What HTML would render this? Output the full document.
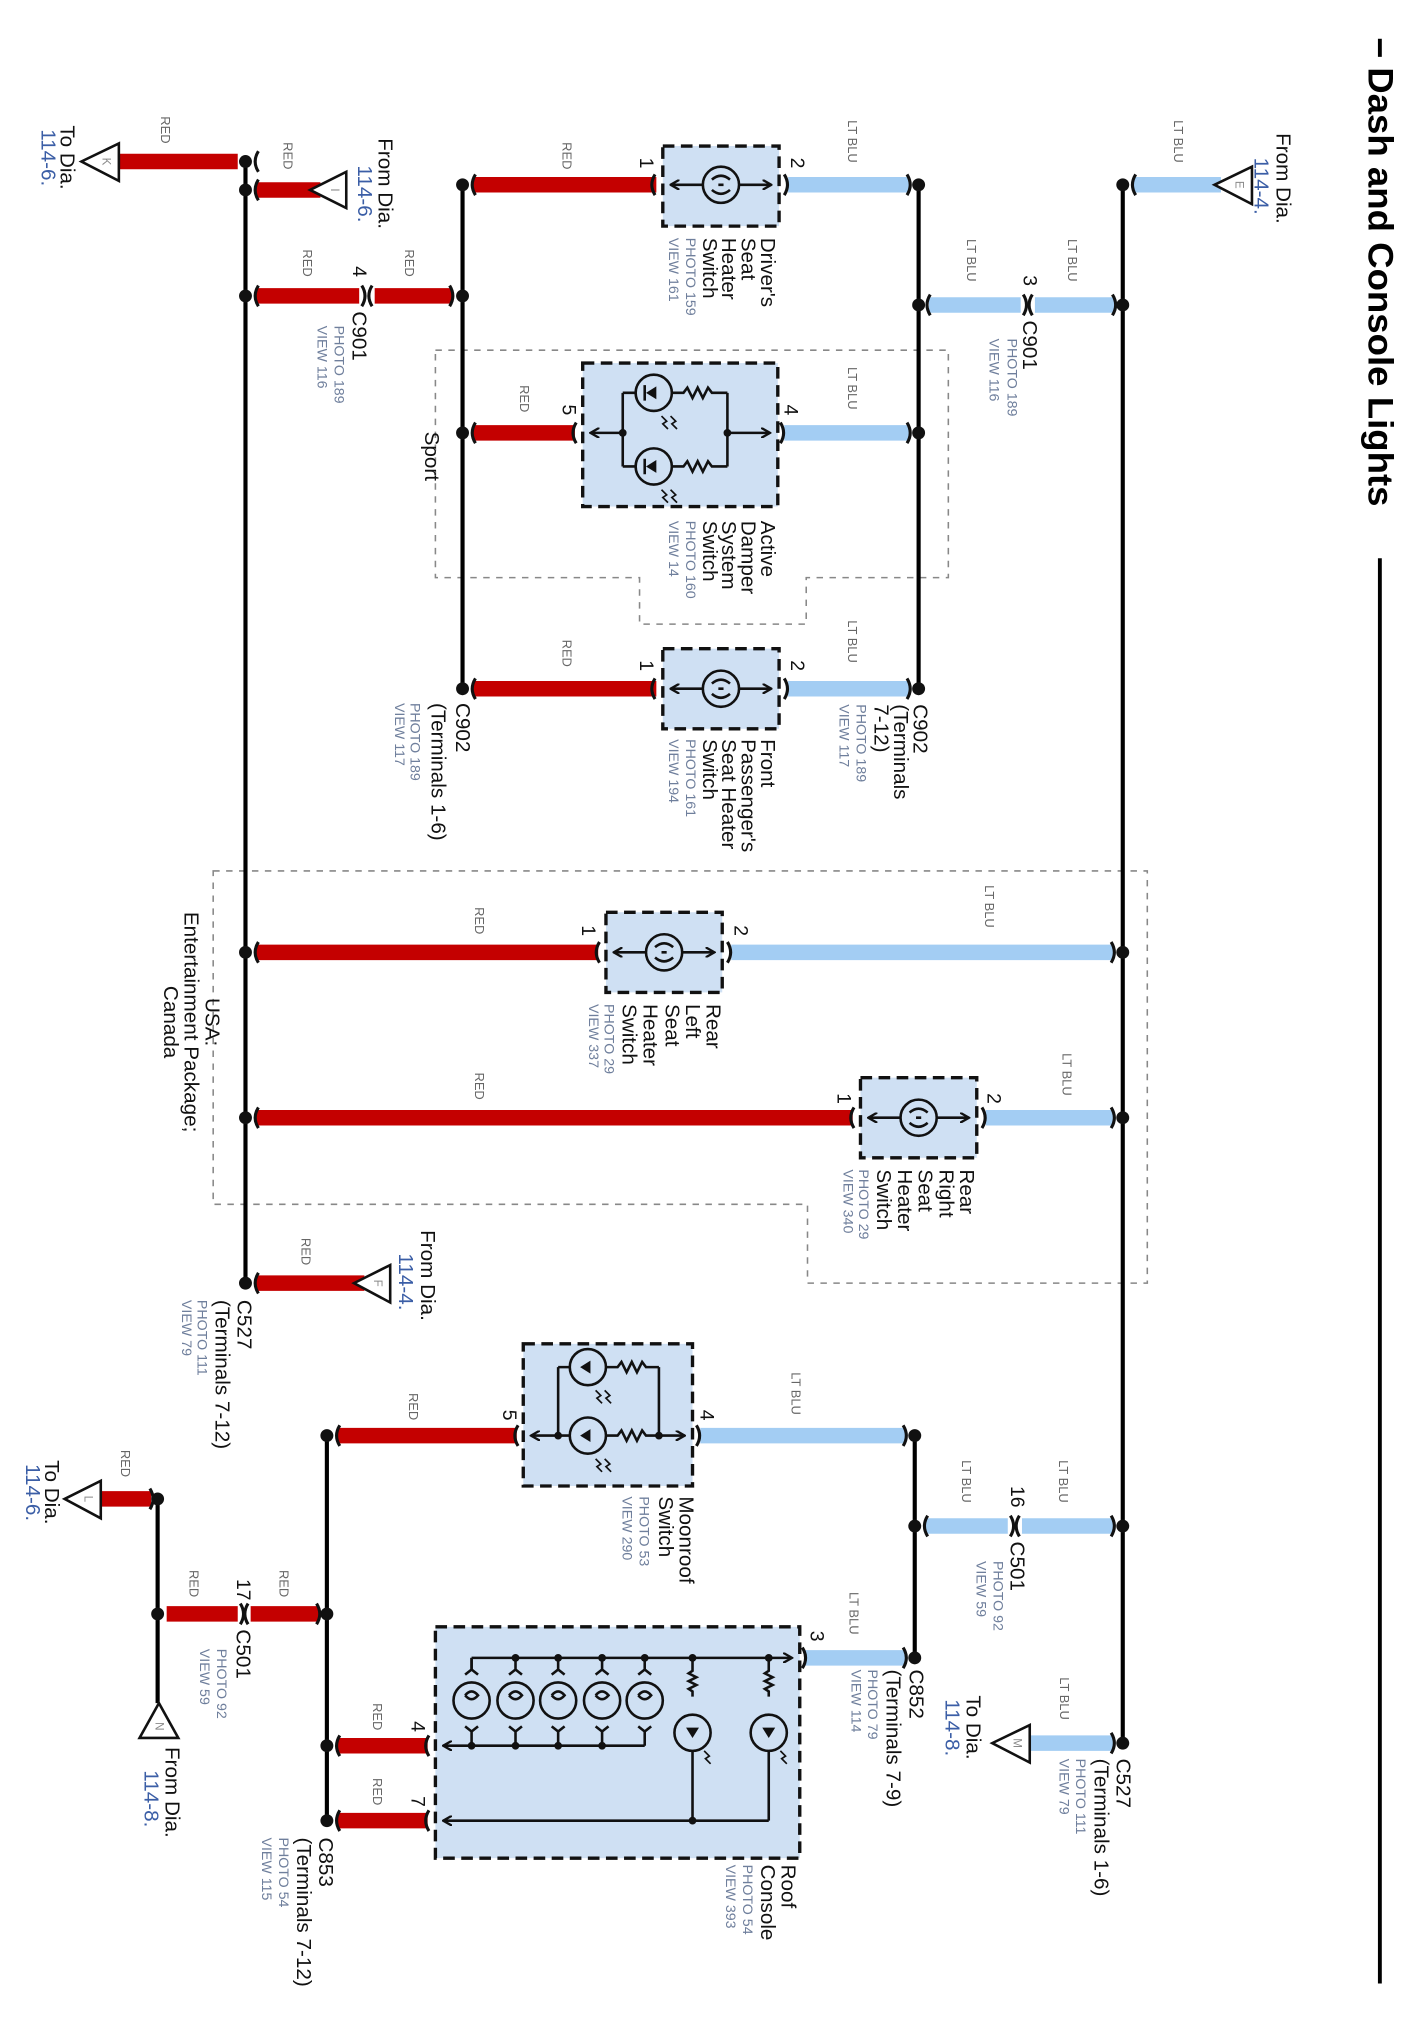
<!DOCTYPE html>
<html><head><meta charset="utf-8"><style>
html,body{margin:0;padding:0;background:#fff;}
svg{display:block;}
text{font-family:"Liberation Sans",sans-serif;dominant-baseline:central;}
.L{font-size:16px;fill:#111;}
.B{font-size:16px;fill:#3b5ea6;}
.S{font-size:11px;fill:#6f7f9c;}
.W{font-size:10px;fill:#666;}
.N{font-size:15px;fill:#111;}
.T{font-size:9px;fill:#888;}
.bus{stroke:#000;stroke-width:3.2;fill:none;}
.r{stroke:#c40000;stroke-width:12;}
.b{stroke:#a3cdf3;stroke-width:12;}
.box{fill:#cfe0f3;stroke:#111;stroke-width:2.6;stroke-dasharray:9,5;}
.reg{fill:none;stroke:#888;stroke-width:1.2;stroke-dasharray:5,5;}
.k{stroke:#111;stroke-width:2;fill:none;}
.kf{fill:#111;}
.br{stroke:#111;stroke-width:2.4;fill:none;}
</style></head><body>
<svg width="1407" height="2030" viewBox="0 0 1089 1571" preserveAspectRatio="none" xmlns="http://www.w3.org/2000/svg">
<defs>
<marker id="ah" markerWidth="8" markerHeight="8" refX="7" refY="4" orient="auto" markerUnits="userSpaceOnUse"><path d="M0,0 L7,4 L0,8" fill="none" stroke="#111" stroke-width="1.8"/></marker>
</defs>

<line x1="1068" y1="30" x2="1068" y2="44" stroke="#000" stroke-width="3"/>
<line x1="1068" y1="432" x2="1068" y2="1535" stroke="#000" stroke-width="3"/>
<text transform="translate(1068,52) rotate(90)" style="font-size:27px;font-weight:bold;fill:#000" textLength="340" lengthAdjust="spacingAndGlyphs">Dash and Console Lights</text>

<polygon class="reg" points="337,271 734,271 734,447 624,447 624,483 495,483 495,447 337,447"/>
<polygon class="reg" points="165,674 888,674 888,993 625,993 625,932 165,932"/>

<line class="bus" x1="190" y1="125" x2="190" y2="993"/>
<line class="bus" x1="358" y1="143" x2="358" y2="533"/>
<line class="bus" x1="711" y1="143" x2="711" y2="533"/>
<line class="bus" x1="869" y1="143" x2="869" y2="1349"/>
<line class="bus" x1="708" y1="1111" x2="708" y2="1283"/>
<line class="bus" x1="253" y1="1111" x2="253" y2="1409"/>
<line class="bus" x1="122" y1="1160" x2="122" y2="1318"/>

<line class="r" x1="90" y1="125" x2="184" y2="125"/>
<line class="r" x1="198" y1="147" x2="248" y2="147"/>
<line class="r" x1="198" y1="229" x2="278" y2="229"/>
<line class="r" x1="290" y1="229" x2="350" y2="229"/>
<line class="r" x1="366" y1="143" x2="508" y2="143"/>
<line class="r" x1="366" y1="335" x2="445" y2="335"/>
<line class="r" x1="366" y1="533" x2="508" y2="533"/>
<line class="r" x1="198" y1="737" x2="463" y2="737"/>
<line class="r" x1="198" y1="865" x2="660" y2="865"/>
<line class="r" x1="198" y1="993" x2="282" y2="993"/>
<line class="r" x1="261" y1="1111" x2="400" y2="1111"/>
<line class="r" x1="76" y1="1160" x2="117" y2="1160"/>
<line class="r" x1="129" y1="1249" x2="184" y2="1249"/>
<line class="r" x1="194" y1="1249" x2="247" y2="1249"/>
<line class="r" x1="261" y1="1351" x2="331" y2="1351"/>
<line class="r" x1="261" y1="1409" x2="331" y2="1409"/>

<line class="b" x1="610" y1="143" x2="704" y2="143"/>
<line class="b" x1="877" y1="143" x2="945" y2="143"/>
<line class="b" x1="719" y1="236" x2="790" y2="236"/>
<line class="b" x1="801" y1="236" x2="863" y2="236"/>
<line class="b" x1="607" y1="335" x2="704" y2="335"/>
<line class="b" x1="610" y1="533" x2="704" y2="533"/>
<line class="b" x1="566" y1="737" x2="862" y2="737"/>
<line class="b" x1="763" y1="865" x2="862" y2="865"/>
<line class="b" x1="542" y1="1111" x2="701" y2="1111"/>
<line class="b" x1="716" y1="1181" x2="780" y2="1181"/>
<line class="b" x1="791" y1="1181" x2="862" y2="1181"/>
<line class="b" x1="623" y1="1283" x2="701" y2="1283"/>
<line class="b" x1="794" y1="1349" x2="862" y2="1349"/>

<g class="kf">
<circle cx="190" cy="125" r="5"/><circle cx="190" cy="147" r="5"/><circle cx="190" cy="229" r="5"/><circle cx="190" cy="737" r="5"/><circle cx="190" cy="865" r="5"/><circle cx="190" cy="993" r="5"/>
<circle cx="358" cy="143" r="5"/><circle cx="358" cy="229" r="5"/><circle cx="358" cy="335" r="5"/><circle cx="358" cy="533" r="5"/>
<circle cx="711" cy="143" r="5"/><circle cx="711" cy="236" r="5"/><circle cx="711" cy="335" r="5"/><circle cx="711" cy="533" r="5"/>
<circle cx="869" cy="143" r="5"/><circle cx="869" cy="236" r="5"/><circle cx="869" cy="737" r="5"/><circle cx="869" cy="865" r="5"/><circle cx="869" cy="1181" r="5"/><circle cx="869" cy="1349" r="5"/>
<circle cx="708" cy="1111" r="5"/><circle cx="708" cy="1181" r="5"/><circle cx="708" cy="1283" r="5"/>
<circle cx="253" cy="1111" r="5"/><circle cx="253" cy="1249" r="5"/><circle cx="253" cy="1351" r="5"/><circle cx="253" cy="1409" r="5"/>
<circle cx="122" cy="1160" r="5"/><circle cx="122" cy="1249" r="5"/>
</g>

<g class="br">
<path d="M200,117 q-5,8 0,16"/><path d="M200,139 q-5,8 0,16"/><path d="M200,221 q-5,8 0,16"/>
<path d="M280,221 q5,8 0,16"/><path d="M288,221 q-5,8 0,16"/><path d="M348,221 q5,8 0,16"/>
<path d="M368,135 q-5,8 0,16"/><path d="M368,327 q-5,8 0,16"/><path d="M368,525 q-5,8 0,16"/>
<path d="M507,135 q-5,8 0,16"/><path d="M507,525 q-5,8 0,16"/><path d="M446,327 q-5,8 0,16"/>
<path d="M607,135 q5,8 0,16"/><path d="M607,525 q5,8 0,16"/><path d="M604,327 q5,8 0,16"/>
<path d="M702,135 q5,8 0,16"/><path d="M702,525 q5,8 0,16"/><path d="M702,327 q5,8 0,16"/>
<path d="M720,228 q-5,8 0,16"/><path d="M792,228 q5,8 0,16"/><path d="M799,228 q-5,8 0,16"/><path d="M861,228 q5,8 0,16"/>
<path d="M879,135 q-5,8 0,16"/>
<path d="M200,729 q-5,8 0,16"/><path d="M464,729 q-5,8 0,16"/><path d="M563,729 q5,8 0,16"/><path d="M860,729 q5,8 0,16"/>
<path d="M200,857 q-5,8 0,16"/><path d="M661,857 q-5,8 0,16"/><path d="M760,857 q5,8 0,16"/><path d="M860,857 q5,8 0,16"/>
<path d="M200,985 q-5,8 0,16"/>
<path d="M263,1103 q-5,8 0,16"/><path d="M401,1103 q-5,8 0,16"/><path d="M539,1103 q5,8 0,16"/><path d="M699,1103 q5,8 0,16"/>
<path d="M718,1173 q-5,8 0,16"/><path d="M782,1173 q5,8 0,16"/><path d="M789,1173 q-5,8 0,16"/><path d="M860,1173 q5,8 0,16"/>
<path d="M621,1275 q5,8 0,16"/><path d="M699,1275 q5,8 0,16"/>
<path d="M860,1341 q5,8 0,16"/>
<path d="M186,1241 q5,8 0,16"/><path d="M192,1241 q-5,8 0,16"/><path d="M245,1241 q5,8 0,16"/>
<path d="M263,1343 q-5,8 0,16"/><path d="M263,1401 q-5,8 0,16"/><path d="M332,1343 q-5,8 0,16"/><path d="M332,1401 q-5,8 0,16"/>
<path d="M116,1152 q5,8 0,16"/>
</g>

<g fill="#fff" stroke="#111" stroke-width="2">
<polygon points="63,125 92,111 92,140"/>
<polygon points="240,147 268,133 268,161"/>
<polygon points="940,143 969,129 969,158"/>
<polygon points="274,993 302,979 302,1008"/>
<polygon points="768,1349 797,1335 797,1364"/>
<polygon points="50,1160 78,1146 78,1175"/>
<polygon points="123,1318 108,1345 138,1345"/>
</g>
<text class="T" transform="translate(82,125) rotate(90)" text-anchor="middle">K</text>
<text class="T" transform="translate(259,147) rotate(90)" text-anchor="middle">I</text>
<text class="T" transform="translate(959,143) rotate(90)" text-anchor="middle">E</text>
<text class="T" transform="translate(292,993) rotate(90)" text-anchor="middle">F</text>
<text class="T" transform="translate(787,1349) rotate(90)" text-anchor="middle">M</text>
<text class="T" transform="translate(68,1160) rotate(90)" text-anchor="middle">L</text>
<text class="T" transform="translate(123,1336) rotate(90)" text-anchor="middle">N</text>

<g>
<rect class="box" x="513" y="113" width="90" height="62"/>
<circle cx="558" cy="143" r="14" class="k"/>
<line class="k" x1="544" y1="143" x2="519" y2="143" marker-end="url(#ah)"/>
<line class="k" x1="572" y1="143" x2="597" y2="143" marker-end="url(#ah)"/>
<path class="k" d="M551,139 q7,-6 14,0 M551,147 q7,6 14,0 M556,143 h4"/>
</g>
<g>
<rect class="box" x="513" y="502" width="90" height="62"/>
<circle cx="558" cy="533" r="14" class="k"/>
<line class="k" x1="544" y1="533" x2="519" y2="533" marker-end="url(#ah)"/>
<line class="k" x1="572" y1="533" x2="597" y2="533" marker-end="url(#ah)"/>
<path class="k" d="M551,529 q7,-6 14,0 M551,537 q7,6 14,0 M556,533 h4"/>
</g>
<g>
<rect class="box" x="469" y="706" width="90" height="62"/>
<circle cx="514" cy="737" r="14" class="k"/>
<line class="k" x1="500" y1="737" x2="475" y2="737" marker-end="url(#ah)"/>
<line class="k" x1="528" y1="737" x2="553" y2="737" marker-end="url(#ah)"/>
<path class="k" d="M507,733 q7,-6 14,0 M507,741 q7,6 14,0 M512,737 h4"/>
</g>
<g>
<rect class="box" x="666" y="834" width="90" height="62"/>
<circle cx="711" cy="865" r="14" class="k"/>
<line class="k" x1="697" y1="865" x2="672" y2="865" marker-end="url(#ah)"/>
<line class="k" x1="725" y1="865" x2="750" y2="865" marker-end="url(#ah)"/>
<path class="k" d="M704,861 q7,-6 14,0 M704,869 q7,6 14,0 M709,865 h4"/>
</g>

<rect class="box" x="451" y="281" width="151" height="111"/>
<path class="k" d="M482,304 V361 M563,304 V361 M482,304 H492 M520,304 H529 l3,-4 l4,8 l4,-8 l4,8 l4,-8 l3,4 H563 M482,361 H492 M520,361 H529 l3,-4 l4,8 l4,-8 l4,8 l4,-8 l3,4 H563"/>
<circle class="k" cx="506" cy="304" r="14"/><circle class="k" cx="506" cy="361" r="14"/>
<path class="kf" d="M500,304 l8,-5 v10 z M500,361 l8,-5 v10 z"/>
<path class="k" d="M499,298 v12 M499,355 v12"/>
<line class="k" x1="482" y1="335" x2="457" y2="335" marker-end="url(#ah)"/>
<line class="k" x1="563" y1="335" x2="596" y2="335" marker-end="url(#ah)"/>
<circle class="kf" cx="482" cy="335" r="3"/><circle class="kf" cx="563" cy="335" r="3"/>
<path class="k" d="M512,322 l4,4 l-3,2 l4,4 M519,322 l4,4 l-3,2 l4,4 M512,379 l4,4 l-3,2 l4,4 M519,379 l4,4 l-3,2 l4,4" style="stroke-width:1.3"/>

<rect class="box" x="405" y="1040" width="131" height="110"/>
<path class="k" d="M432,1058 V1111 M510,1058 V1111 M432,1058 H441 M469,1058 H478 l3,-4 l4,8 l4,-8 l4,8 l4,-8 l3,4 H510 M432,1111 H441 M469,1111 H478 l3,-4 l4,8 l4,-8 l4,8 l4,-8 l3,4 H510"/>
<circle class="k" cx="455" cy="1058" r="14"/><circle class="k" cx="455" cy="1111" r="14"/>
<path class="kf" d="M449,1058 l8,-5 v10 z M449,1111 l8,-5 v10 z"/>
<line class="k" x1="432" y1="1111" x2="411" y2="1111" marker-end="url(#ah)"/>
<line class="k" x1="510" y1="1111" x2="530" y2="1111" marker-end="url(#ah)"/>
<circle class="kf" cx="432" cy="1111" r="3"/><circle class="kf" cx="510" cy="1111" r="3"/>
<path class="k" d="M461,1076 l4,4 l-3,2 l4,4 M468,1076 l4,4 l-3,2 l4,4 M461,1129 l4,4 l-3,2 l4,4 M468,1129 l4,4 l-3,2 l4,4" style="stroke-width:1.3"/>

<rect class="box" x="337" y="1259" width="282" height="179"/>
<line class="k" x1="365" y1="1283" x2="613" y2="1283" marker-end="url(#ah)"/>
<line class="k" x1="365" y1="1283" x2="365" y2="1292"/>
<line class="k" x1="499" y1="1351" x2="343" y2="1351" marker-end="url(#ah)"/>
<line class="k" x1="595" y1="1409" x2="343" y2="1409" marker-end="url(#ah)"/>
<g class="k">
<path d="M365,1283 v10 M360,1296 l5,-4 l5,4 M365,1340 v11 M360,1336 l5,4 l5,-4"/>
<circle cx="365" cy="1316" r="14"/>
<path d="M399,1283 v10 M394,1296 l5,-4 l5,4 M399,1340 v11 M394,1336 l5,4 l5,-4"/>
<circle cx="399" cy="1316" r="14"/>
<path d="M432,1283 v10 M427,1296 l5,-4 l5,4 M432,1340 v11 M427,1336 l5,4 l5,-4"/>
<circle cx="432" cy="1316" r="14"/>
<path d="M466,1283 v10 M461,1296 l5,-4 l5,4 M466,1340 v11 M461,1336 l5,4 l5,-4"/>
<circle cx="466" cy="1316" r="14"/>
<path d="M499,1283 v10 M494,1296 l5,-4 l5,4 M499,1340 v11 M494,1336 l5,4 l5,-4"/>
<circle cx="499" cy="1316" r="14"/>
<path d="M360,1312 q5,-6 10,0 q-5,6 -10,0 M394,1312 q5,-6 10,0 q-5,6 -10,0 M427,1312 q5,-6 10,0 q-5,6 -10,0 M461,1312 q5,-6 10,0 q-5,6 -10,0 M494,1312 q5,-6 10,0 q-5,6 -10,0"/>
<path d="M536,1283 v10 l-3,2 l6,3 l-6,3 l6,3 l-6,3 l3,2 v4 M536,1355 V1409"/>
<circle cx="536" cy="1341" r="14"/>
<path d="M595,1283 v10 l-3,2 l6,3 l-6,3 l6,3 l-6,3 l3,2 v4 M595,1355 V1409"/>
<circle cx="595" cy="1341" r="14"/>
<path d="M545,1355 l4,4 l-3,2 l4,4 M604,1355 l4,4 l-3,2 l4,4" style="stroke-width:1.3"/>
</g>
<path class="kf" d="M531,1337 h10 l-5,8 z M590,1337 h10 l-5,8 z"/>
<g class="kf">
<circle cx="399" cy="1283" r="3"/><circle cx="432" cy="1283" r="3"/><circle cx="466" cy="1283" r="3"/><circle cx="499" cy="1283" r="3"/><circle cx="536" cy="1283" r="3"/><circle cx="595" cy="1283" r="3"/>
<circle cx="365" cy="1351" r="3"/><circle cx="399" cy="1351" r="3"/><circle cx="432" cy="1351" r="3"/><circle cx="466" cy="1351" r="3"/>
<circle cx="536" cy="1409" r="3"/>
</g>

<text class="L" transform="translate(52,97) rotate(90)">To  Dia.</text>
<text class="B" transform="translate(37,100) rotate(90)">114-6.</text>
<text class="W" transform="translate(128,90) rotate(90)">RED</text>
<text class="L" transform="translate(298,107) rotate(90)">From  Dia.</text>
<text class="B" transform="translate(282,128) rotate(90)">114-6.</text>
<text class="W" transform="translate(223,110) rotate(90)">RED</text>
<text class="W" transform="translate(238,193) rotate(90)">RED</text>
<text class="W" transform="translate(317,193) rotate(90)">RED</text>
<text class="N" transform="translate(278,206) rotate(90)">4</text>
<text class="L" transform="translate(278,241) rotate(90)">C901</text>
<text class="S" transform="translate(262,252) rotate(90)">PHOTO 189</text>
<text class="S" transform="translate(249,252) rotate(90)">VIEW 116</text>

<text class="W" transform="translate(439,110) rotate(90)">RED</text>
<text class="N" transform="translate(500,122) rotate(90)">1</text>
<text class="N" transform="translate(617,122) rotate(90)">2</text>
<text class="W" transform="translate(660,93) rotate(90)">LT BLU</text>
<text class="L" transform="translate(594,184) rotate(90)">Driver's</text>
<text class="L" transform="translate(579,184) rotate(90)">Seat</text>
<text class="L" transform="translate(564,184) rotate(90)">Heater</text>
<text class="L" transform="translate(549,184) rotate(90)">Switch</text>
<text class="S" transform="translate(534,184) rotate(90)">PHOTO 159</text>
<text class="S" transform="translate(521,184) rotate(90)">VIEW 161</text>

<text class="L" transform="translate(993,103) rotate(90)">From  Dia.</text>
<text class="B" transform="translate(976,122) rotate(90)">114-4.</text>
<text class="W" transform="translate(912,93) rotate(90)">LT BLU</text>
<text class="W" transform="translate(830,185) rotate(90)">LT BLU</text>
<text class="W" transform="translate(752,185) rotate(90)">LT BLU</text>
<text class="N" transform="translate(797,213) rotate(90)">3</text>
<text class="L" transform="translate(797,248) rotate(90)">C901</text>
<text class="S" transform="translate(783,262) rotate(90)">PHOTO 189</text>
<text class="S" transform="translate(769,262) rotate(90)">VIEW 116</text>

<text class="W" transform="translate(406,298) rotate(90)">RED</text>
<text class="N" transform="translate(440,313) rotate(90)">5</text>
<text class="N" transform="translate(612,313) rotate(90)">4</text>
<text class="W" transform="translate(660,284) rotate(90)">LT BLU</text>
<text class="L" transform="translate(334,334) rotate(90)">Sport</text>
<text class="L" transform="translate(594,403) rotate(90)">Active</text>
<text class="L" transform="translate(579,403) rotate(90)">Damper</text>
<text class="L" transform="translate(564,403) rotate(90)">System</text>
<text class="L" transform="translate(549,403) rotate(90)">Switch</text>
<text class="S" transform="translate(534,403) rotate(90)">PHOTO 160</text>
<text class="S" transform="translate(521,403) rotate(90)">VIEW 14</text>

<text class="W" transform="translate(439,495) rotate(90)">RED</text>
<text class="N" transform="translate(500,511) rotate(90)">1</text>
<text class="N" transform="translate(617,511) rotate(90)">2</text>
<text class="W" transform="translate(660,480) rotate(90)">LT BLU</text>
<text class="L" transform="translate(594,572) rotate(90)">Front</text>
<text class="L" transform="translate(579,572) rotate(90)">Passenger's</text>
<text class="L" transform="translate(564,572) rotate(90)">Seat Heater</text>
<text class="L" transform="translate(549,572) rotate(90)">Switch</text>
<text class="S" transform="translate(534,572) rotate(90)">PHOTO 161</text>
<text class="S" transform="translate(521,572) rotate(90)">VIEW 194</text>
<text class="L" transform="translate(712,545) rotate(90)">C902</text>
<text class="L" transform="translate(697,545) rotate(90)">(Terminals</text>
<text class="L" transform="translate(682,545) rotate(90)">7-12)</text>
<text class="S" transform="translate(666,545) rotate(90)">PHOTO 189</text>
<text class="S" transform="translate(653,545) rotate(90)">VIEW 117</text>
<text class="L" transform="translate(358,544) rotate(90)">C902</text>
<text class="L" transform="translate(339,544) rotate(90)">(Terminals 1-6)</text>
<text class="S" transform="translate(321,544) rotate(90)">PHOTO 189</text>
<text class="S" transform="translate(309,544) rotate(90)">VIEW 117</text>

<text class="W" transform="translate(371,702) rotate(90)">RED</text>
<text class="N" transform="translate(455,716) rotate(90)">1</text>
<text class="N" transform="translate(573,716) rotate(90)">2</text>
<text class="W" transform="translate(766,685) rotate(90)">LT BLU</text>
<text class="L" transform="translate(164,791) rotate(90)" text-anchor="middle">USA:</text>
<text class="L" transform="translate(148,791) rotate(90)" text-anchor="middle">Entertainment Package;</text>
<text class="L" transform="translate(132,791) rotate(90)" text-anchor="middle">Canada</text>
<text class="L" transform="translate(552,777) rotate(90)">Rear</text>
<text class="L" transform="translate(536,777) rotate(90)">Left</text>
<text class="L" transform="translate(520,777) rotate(90)">Seat</text>
<text class="L" transform="translate(503,777) rotate(90)">Heater</text>
<text class="L" transform="translate(487,777) rotate(90)">Switch</text>
<text class="S" transform="translate(471,777) rotate(90)">PHOTO 29</text>
<text class="S" transform="translate(459,777) rotate(90)">VIEW 337</text>

<text class="W" transform="translate(371,830) rotate(90)">RED</text>
<text class="N" transform="translate(653,846) rotate(90)">1</text>
<text class="N" transform="translate(769,846) rotate(90)">2</text>
<text class="W" transform="translate(826,815) rotate(90)">LT BLU</text>
<text class="L" transform="translate(748,905) rotate(90)">Rear</text>
<text class="L" transform="translate(732,905) rotate(90)">Right</text>
<text class="L" transform="translate(716,905) rotate(90)">Seat</text>
<text class="L" transform="translate(700,905) rotate(90)">Heater</text>
<text class="L" transform="translate(684,905) rotate(90)">Switch</text>
<text class="S" transform="translate(668,905) rotate(90)">PHOTO 29</text>
<text class="S" transform="translate(656,905) rotate(90)">VIEW 340</text>

<text class="L" transform="translate(331,952) rotate(90)">From  Dia.</text>
<text class="B" transform="translate(314,970) rotate(90)">114-4.</text>
<text class="W" transform="translate(237,958) rotate(90)">RED</text>
<text class="L" transform="translate(189,1006) rotate(90)">C527</text>
<text class="L" transform="translate(172,1006) rotate(90)">(Terminals 7-12)</text>
<text class="S" transform="translate(156,1006) rotate(90)">PHOTO 111</text>
<text class="S" transform="translate(144,1006) rotate(90)">VIEW 79</text>

<text class="W" transform="translate(320,1078) rotate(90)">RED</text>
<text class="N" transform="translate(394,1091) rotate(90)">5</text>
<text class="N" transform="translate(547,1091) rotate(90)">4</text>
<text class="W" transform="translate(616,1062) rotate(90)">LT BLU</text>
<text class="L" transform="translate(531,1158) rotate(90)">Moonroof</text>
<text class="L" transform="translate(515,1158) rotate(90)">Switch</text>
<text class="S" transform="translate(498,1158) rotate(90)">PHOTO 53</text>
<text class="S" transform="translate(485,1158) rotate(90)">VIEW 290</text>

<text class="W" transform="translate(823,1130) rotate(90)">LT BLU</text>
<text class="W" transform="translate(748,1130) rotate(90)">LT BLU</text>
<text class="N" transform="translate(787,1150) rotate(90)">16</text>
<text class="L" transform="translate(787,1193) rotate(90)">C501</text>
<text class="S" transform="translate(772,1208) rotate(90)">PHOTO 92</text>
<text class="S" transform="translate(759,1208) rotate(90)">VIEW 59</text>

<text class="W" transform="translate(824,1298) rotate(90)">LT BLU</text>
<text class="L" transform="translate(753,1312) rotate(90)">To  Dia.</text>
<text class="B" transform="translate(737,1315) rotate(90)">114-8.</text>
<text class="L" transform="translate(869,1361) rotate(90)">C527</text>
<text class="L" transform="translate(852,1361) rotate(90)">(Terminals 1-6)</text>
<text class="S" transform="translate(836,1361) rotate(90)">PHOTO 111</text>
<text class="S" transform="translate(823,1361) rotate(90)">VIEW 79</text>

<text class="W" transform="translate(661,1232) rotate(90)">LT BLU</text>
<text class="N" transform="translate(632,1262) rotate(90)">3</text>
<text class="L" transform="translate(709,1292) rotate(90)">C852</text>
<text class="L" transform="translate(691,1292) rotate(90)">(Terminals 7-9)</text>
<text class="S" transform="translate(675,1292) rotate(90)">PHOTO 79</text>
<text class="S" transform="translate(662,1292) rotate(90)">VIEW 114</text>

<text class="L" transform="translate(610,1443) rotate(90)">Roof</text>
<text class="L" transform="translate(594,1443) rotate(90)">Console</text>
<text class="S" transform="translate(578,1443) rotate(90)">PHOTO 54</text>
<text class="S" transform="translate(565,1443) rotate(90)">VIEW 393</text>
<text class="W" transform="translate(292,1318) rotate(90)">RED</text>
<text class="N" transform="translate(323,1332) rotate(90)">4</text>
<text class="W" transform="translate(292,1376) rotate(90)">RED</text>
<text class="N" transform="translate(323,1390) rotate(90)">7</text>
<text class="L" transform="translate(252,1422) rotate(90)">C853</text>
<text class="L" transform="translate(235,1422) rotate(90)">(Terminals 7-12)</text>
<text class="S" transform="translate(219,1422) rotate(90)">PHOTO 54</text>
<text class="S" transform="translate(206,1422) rotate(90)">VIEW 115</text>

<text class="W" transform="translate(220,1215) rotate(90)">RED</text>
<text class="W" transform="translate(150,1215) rotate(90)">RED</text>
<text class="N" transform="translate(188,1222) rotate(90)">17</text>
<text class="L" transform="translate(188,1261) rotate(90)">C501</text>
<text class="S" transform="translate(171,1276) rotate(90)">PHOTO 92</text>
<text class="S" transform="translate(158,1276) rotate(90)">VIEW 59</text>

<text class="W" transform="translate(97,1122) rotate(90)">RED</text>
<text class="L" transform="translate(40,1130) rotate(90)">To  Dia.</text>
<text class="B" transform="translate(25,1133) rotate(90)">114-6.</text>
<text class="L" transform="translate(133,1352) rotate(90)">From  Dia.</text>
<text class="B" transform="translate(117,1370) rotate(90)">114-8.</text>
</svg>
</body></html>
